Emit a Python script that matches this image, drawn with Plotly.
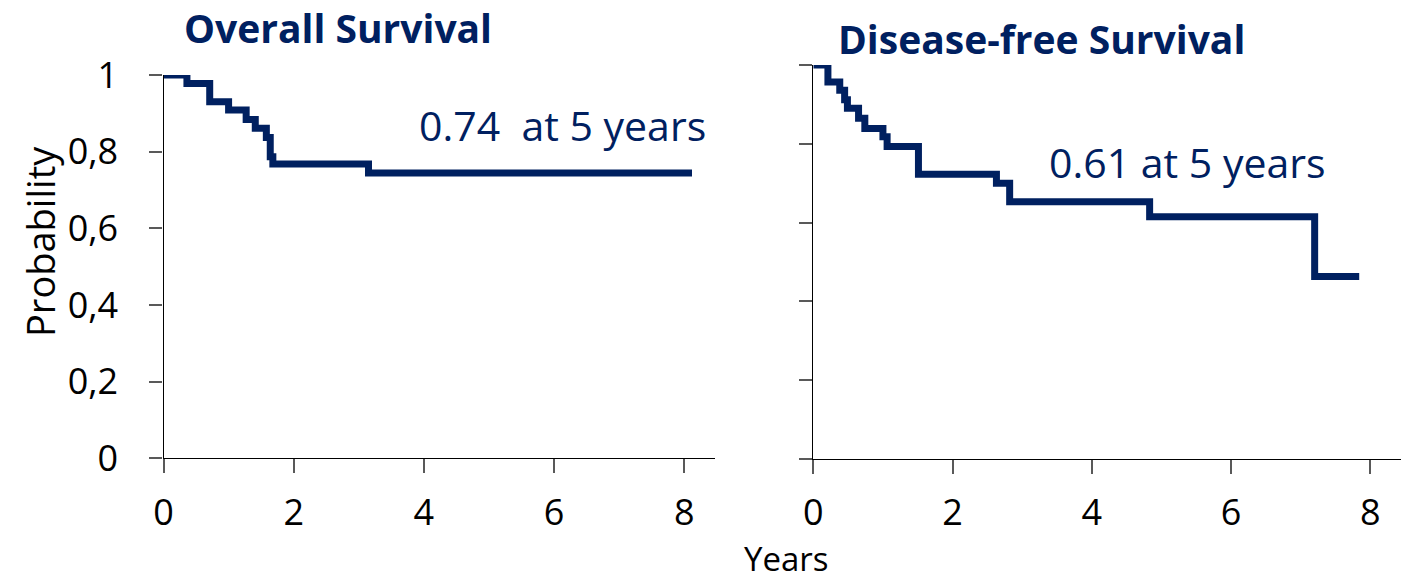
import plotly.graph_objects as go

# Kaplan-Meier estimates (time in years, survival probability)
os_time = [0, 0.36, 0.71, 1.00, 1.27, 1.41, 1.58, 1.64, 1.68, 3.15, 8.12]
os_surv = [1.0, 0.978, 0.930, 0.909, 0.884, 0.861, 0.837, 0.787, 0.768, 0.744, 0.744]

dfs_time = [0, 0.21, 0.38, 0.45, 0.49, 0.65, 0.74, 1.00, 1.06, 1.51, 2.63, 2.82, 4.83, 7.20, 7.84]
dfs_surv = [1.0, 0.957, 0.936, 0.912, 0.890, 0.865, 0.839, 0.818, 0.793, 0.723, 0.700, 0.653, 0.615, 0.463, 0.463]

x_ticks = [0, 2, 4, 6, 8]
y_ticks = [0, 0.2, 0.4, 0.6, 0.8, 1]
y_tick_text = ["0", "0,2", "0,4", "0,6", "0,8", "1"]

NAVY = "#002060"
FONT = "Open Sans"
W, H = 1401, 583


def px(x):
    return x / W


def py(y):
    return 1 - y / H


fig = go.Figure()
fig.add_trace(go.Scatter(x=os_time, y=os_surv, mode="lines", line=dict(shape="hv", width=7, color=NAVY),
                         xaxis="x", yaxis="y", showlegend=False))
fig.add_trace(go.Scatter(x=dfs_time, y=dfs_surv, mode="lines", line=dict(shape="hv", width=7, color=NAVY),
                         xaxis="x2", yaxis="y2", showlegend=False))

axis_common = dict(showline=True, linecolor="#000000", linewidth=1.3, showgrid=False, zeroline=False,
                   automargin=False, ticks="outside", tickcolor="#595959", tickwidth=1.5,
                   tickfont=dict(family=FONT, size=36, color="#000000"))

fig.update_layout(
    width=W, height=H,
    margin=dict(l=0, r=0, t=0, b=0, autoexpand=False),
    paper_bgcolor="white", plot_bgcolor="white",
    xaxis=dict(domain=[px(163.5), px(714.8)], range=[0, 8.47], anchor="y",
               tickvals=x_ticks, ticklen=14, ticklabelstandoff=8, **axis_common),
    yaxis=dict(domain=[py(458.3), py(75)], range=[0, 1], anchor="x",
               tickvals=y_ticks, ticktext=y_tick_text, ticklen=13, ticklabelstandoff=24, **axis_common),
    xaxis2=dict(domain=[px(813.3), 1.0], range=[0, 8.44], anchor="y2",
                tickvals=x_ticks, ticklen=14, ticklabelstandoff=8, **axis_common),
    yaxis2=dict(domain=[py(459), py(65)], range=[0, 1], anchor="x2",
                tickvals=y_ticks, showticklabels=False, ticklen=13, **axis_common),
)

def label(text, x, y, size, color, bold=False, angle=0, yanchor="middle"):
    fig.add_annotation(text=f"<b>{text}</b>" if bold else text, xref="paper", yref="paper",
                       x=px(x), y=py(y), xanchor="center", yanchor=yanchor, showarrow=False,
                       textangle=angle, font=dict(family=FONT, size=size, color=color))

label("Overall Survival", 337.5, 27, 39, NAVY, bold=True)
label("Disease-free Survival", 1041, 38, 39, NAVY, bold=True)
label("0.74  at 5 years", 562, 125, 41, NAVY)
label("0.61 at 5 years", 1187, 162, 41, NAVY)
label("Years", 786.5, 583, 33, "#000000", yanchor="bottom")
label("Probability", 40, 242, 38, "#000000", angle=-90)

fig.write_html("out.html")
